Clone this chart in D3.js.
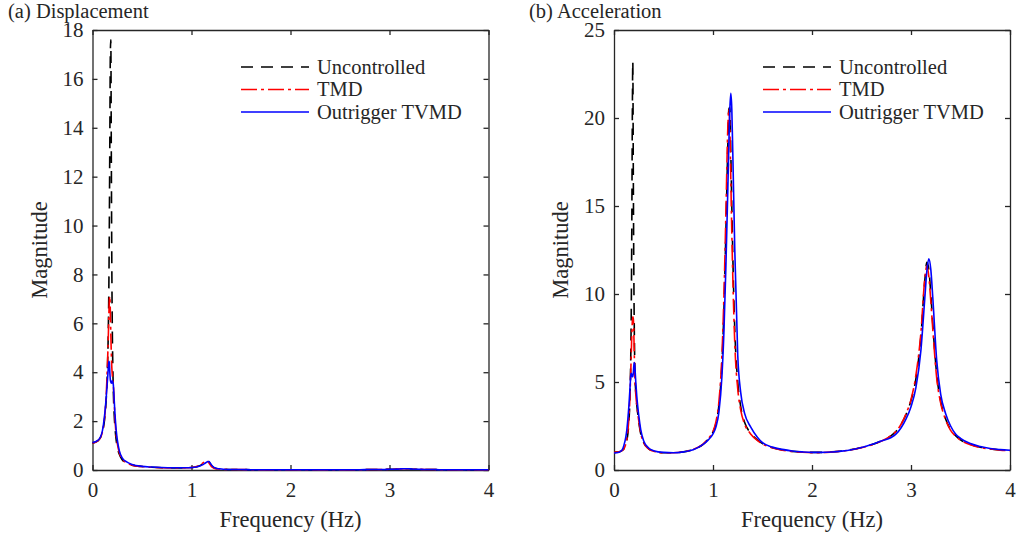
<!DOCTYPE html>
<html>
<head>
<meta charset="utf-8">
<script src="https://cdn.jsdelivr.net/npm/d3@7"></script>
<style>
  body { margin: 0; background: #fff; }
  svg text { font-family: "Liberation Serif", "Times New Roman", serif; fill: #262626; }
  .axis path, .axis line { stroke: #262626; stroke-width: 1.3; }
  .axis text { font-size: 21px; }
</style>
</head>
<body>
<svg id="chart" width="1017" height="535"></svg>
<script>
// frequency grid (Hz), shared by every series
var freq = [0, 0.05, 0.08, 0.1, 0.12, 0.13, 0.14, 0.15, 0.16, 0.165,
  0.17, 0.175, 0.18, 0.185, 0.19, 0.195, 0.2, 0.205, 0.21, 0.22,
  0.23, 0.24, 0.25, 0.27, 0.3, 0.35, 0.4, 0.5, 0.6, 0.7,
  0.8, 0.9, 0.95, 1.0, 1.03, 1.06, 1.09, 1.11, 1.13, 1.15,
  1.16, 1.17, 1.18, 1.19, 1.2, 1.22, 1.25, 1.28, 1.32, 1.38,
  1.45, 1.5, 1.6, 1.7, 1.8, 1.9, 2.0, 2.1, 2.2, 2.3,
  2.4, 2.5, 2.6, 2.7, 2.8, 2.85, 2.9, 2.95, 3.0, 3.05,
  3.1, 3.14, 3.16, 3.18, 3.2, 3.22, 3.26, 3.3, 3.35, 3.4,
  3.45, 3.5, 3.6, 3.7, 3.8, 3.9, 4.0];

// (a) displacement
var dispUncontrolled = [1.1, 1.18, 1.32, 1.55, 2.0, 2.4, 3.0, 4.0, 5.8, 7.4,
  10.0, 13.5, 17.0, 17.6, 13.0, 8.5, 5.8, 4.3, 3.3, 2.2,
  1.6, 1.2, 0.95, 0.65, 0.42, 0.27, 0.2, 0.14, 0.11, 0.09,
  0.08, 0.08, 0.09, 0.1, 0.11, 0.14, 0.19, 0.24, 0.3, 0.36,
  0.38, 0.37, 0.32, 0.25, 0.19, 0.11, 0.06, 0.04, 0.03, 0.02,
  0.02, 0.02, 0.01, 0.01, 0.01, 0.01, 0.01, 0.01, 0.01, 0.01,
  0.01, 0.01, 0.01, 0.01, 0.02, 0.02, 0.02, 0.02, 0.03, 0.03,
  0.04, 0.05, 0.05, 0.05, 0.05, 0.04, 0.03, 0.03, 0.02, 0.02,
  0.02, 0.01, 0.01, 0.01, 0.01, 0.01, 0.01];
var dispTMD = [1.1, 1.18, 1.32, 1.55, 2.05, 2.5, 3.2, 4.2, 5.5, 6.3,
  6.9, 7.1, 6.5, 5.6, 4.8, 4.2, 3.9, 3.7, 3.5, 2.7,
  1.9, 1.4, 1.1, 0.72, 0.45, 0.28, 0.2, 0.14, 0.11, 0.09,
  0.08, 0.08, 0.09, 0.1, 0.12, 0.15, 0.21, 0.27, 0.33, 0.38,
  0.37, 0.33, 0.26, 0.2, 0.15, 0.09, 0.05, 0.04, 0.03, 0.02,
  0.02, 0.02, 0.01, 0.01, 0.01, 0.01, 0.01, 0.01, 0.01, 0.01,
  0.01, 0.01, 0.01, 0.01, 0.02, 0.02, 0.02, 0.02, 0.03, 0.03,
  0.04, 0.05, 0.05, 0.05, 0.05, 0.04, 0.03, 0.03, 0.02, 0.02,
  0.02, 0.01, 0.01, 0.01, 0.01, 0.01, 0.01];
var dispTVMD = [1.12, 1.2, 1.35, 1.6, 2.15, 2.55, 3.05, 3.6, 4.2, 4.45,
  4.4, 4.0, 3.7, 3.6, 3.55, 3.6, 3.65, 3.6, 3.5, 2.8,
  2.1, 1.6, 1.25, 0.8, 0.5, 0.32, 0.23, 0.15, 0.12, 0.1,
  0.09, 0.09, 0.09, 0.1, 0.11, 0.13, 0.17, 0.21, 0.26, 0.31,
  0.34, 0.35, 0.33, 0.28, 0.22, 0.13, 0.07, 0.05, 0.03, 0.02,
  0.02, 0.02, 0.01, 0.01, 0.01, 0.01, 0.01, 0.01, 0.01, 0.01,
  0.01, 0.01, 0.01, 0.01, 0.02, 0.02, 0.02, 0.02, 0.03, 0.03,
  0.04, 0.05, 0.05, 0.05, 0.05, 0.04, 0.03, 0.03, 0.02, 0.02,
  0.02, 0.01, 0.01, 0.01, 0.01, 0.01, 0.01];

// (b) acceleration
var accUncontrolled = [1.0, 1.03, 1.1, 1.2, 1.45, 1.7, 2.05, 2.7, 3.9, 5.0,
  6.7, 9.5, 14.0, 20.0, 23.2, 17.0, 11.5, 8.0, 6.0, 4.4,
  3.7, 3.2, 2.75, 2.05, 1.55, 1.2, 1.06, 0.98, 0.98, 1.03,
  1.17, 1.46, 1.75, 2.15, 2.65, 3.7, 6.0, 9.0, 13.5, 18.5,
  20.5, 20.6, 18.0, 15.0, 12.2, 8.0, 5.0, 3.6, 2.7, 2.1,
  1.7, 1.5, 1.27, 1.14, 1.06, 1.02, 1.0, 1.0, 1.03, 1.08,
  1.16, 1.28, 1.43, 1.65, 1.95, 2.2, 2.6, 3.15, 3.95, 5.2,
  7.6, 10.8, 11.8, 11.4, 10.0, 8.3, 5.4, 3.9, 2.9, 2.3,
  1.95, 1.72, 1.45, 1.3, 1.2, 1.14, 1.1];
var accTMD = [1.0, 1.03, 1.1, 1.2, 1.5, 1.75, 2.2, 2.9, 4.0, 4.8,
  5.7, 6.7, 7.7, 8.4, 8.7, 8.6, 7.8, 6.6, 5.4, 4.3,
  3.7, 3.2, 2.8, 2.1, 1.55, 1.2, 1.06, 0.98, 0.98, 1.03,
  1.17, 1.47, 1.77, 2.2, 2.75, 3.9, 6.5, 9.8, 14.5, 19.5,
  20.5, 19.5, 16.5, 13.5, 11.0, 7.2, 4.6, 3.4, 2.6, 2.05,
  1.67, 1.48, 1.26, 1.13, 1.05, 1.01, 0.99, 0.99, 1.02, 1.07,
  1.15, 1.27, 1.42, 1.64, 1.95, 2.2, 2.6, 3.2, 4.0, 5.4,
  7.8, 10.9, 11.6, 11.0, 9.6, 8.0, 5.2, 3.8, 2.85, 2.25,
  1.92, 1.7, 1.43, 1.28, 1.19, 1.13, 1.1];
var accTVMD = [0.97, 1.01, 1.12, 1.4, 1.9, 2.3, 2.9, 3.6, 4.5, 5.0,
  5.4, 5.5, 5.4, 5.3, 5.3, 5.5, 5.9, 6.1, 5.9, 5.0,
  4.2, 3.6, 3.1, 2.3, 1.65, 1.25, 1.1, 1.0, 0.98, 1.03,
  1.15, 1.45, 1.7, 2.05, 2.45, 3.3, 5.3, 7.8, 11.5, 16.0,
  18.5, 20.5, 21.4, 20.5, 18.0, 12.5, 6.5, 4.4, 3.2, 2.45,
  1.85, 1.55, 1.3, 1.17, 1.08, 1.03, 1.0, 1.0, 1.02, 1.07,
  1.15, 1.28, 1.45, 1.65, 1.85, 2.05, 2.4, 2.9, 3.6, 4.7,
  6.8, 9.8, 11.3, 12.0, 11.4, 9.8, 6.2, 4.3, 3.2, 2.5,
  2.05, 1.8, 1.5, 1.33, 1.22, 1.16, 1.12];

var freqTicks = [0, 1, 2, 3, 4];
var dispTicks = [0, 2, 4, 6, 8, 10, 12, 14, 16, 18];
var accTicks = [0, 5, 10, 15, 20, 25];
var seriesNames = ['Uncontrolled', 'TMD', 'Outrigger TVMD'];
var seriesColors = ['#000000', '#ff0000', '#0000ff'];
var seriesDash = ['12,8', '16,4,3,4', null];

var panels = [
  {title: '(a) Displacement', titleX: 8, left: 92.5, right: 488.5, ymax: 18, ticks: dispTicks,
   series: [dispUncontrolled, dispTMD, dispTVMD], legendX: 241},
  {title: '(b) Acceleration', titleX: 529, left: 614, right: 1010, ymax: 25, ticks: accTicks,
   series: [accUncontrolled, accTMD, accTVMD], legendX: 763}
];

var plotTop = 30, plotBottom = 470;
var svg = d3.select('#chart');

panels.forEach(function(p) {
  var x = d3.scaleLinear().domain([0, 4]).range([p.left, p.right]);
  var y = d3.scaleLinear().domain([0, p.ymax]).range([plotBottom, plotTop]);
  var g = svg.append('g');

  // box with inward ticks on all four sides
  g.append('g')
      .attr('class', 'axis')
      .attr('transform', 'translate(0,' + plotBottom + ')')
      .call(d3.axisBottom(x).tickValues(freqTicks).tickSizeInner(-5).tickSizeOuter(0).tickPadding(12).tickFormat(d3.format('d')));
  g.append('g')
      .attr('class', 'axis')
      .attr('transform', 'translate(0,' + plotTop + ')')
      .call(d3.axisTop(x).tickValues(freqTicks).tickSizeInner(-5).tickSizeOuter(0).tickFormat(''));
  g.append('g')
      .attr('class', 'axis')
      .attr('transform', 'translate(' + p.left + ',0)')
      .call(d3.axisLeft(y).tickValues(p.ticks).tickSizeInner(-5).tickSizeOuter(0).tickPadding(9).tickFormat(d3.format('d')));
  g.append('g')
      .attr('class', 'axis')
      .attr('transform', 'translate(' + p.right + ',0)')
      .call(d3.axisRight(y).tickValues(p.ticks).tickSizeInner(-5).tickSizeOuter(0).tickFormat(''));
  g.selectAll('.axis .domain').attr('stroke-width', 1.6);

  var line = d3.line()
      .x(function(d, i) { return x(freq[i]); })
      .y(function(d) { return y(d); })
      .curve(d3.curveMonotoneX);

  g.selectAll('path.series')
      .data(p.series)
      .enter().append('path')
      .attr('class', 'series')
      .attr('fill', 'none')
      .attr('stroke', function(d, i) { return seriesColors[i]; })
      .attr('stroke-width', 1.6)
      .attr('stroke-dasharray', function(d, i) { return seriesDash[i]; })
      .attr('d', line);

  // legend
  var leg = g.selectAll('g.legend')
      .data(seriesNames)
      .enter().append('g')
      .attr('class', 'legend')
      .attr('transform', function(d, i) { return 'translate(' + p.legendX + ',' + (67 + i * 22.5) + ')'; });
  leg.append('line')
      .attr('x1', 0).attr('x2', 68)
      .attr('stroke', function(d, i) { return seriesColors[i]; })
      .attr('stroke-width', 1.6)
      .attr('stroke-dasharray', function(d, i) { return seriesDash[i]; });
  leg.append('text')
      .attr('x', 76).attr('dy', '0.33em')
      .style('font-size', '20.5px')
      .text(function(d) { return d; });

  g.append('text')
      .attr('x', p.titleX).attr('y', 18)
      .style('font-size', '20.5px')
      .text(p.title);
  g.append('text')
      .attr('x', (p.left + p.right) / 2).attr('y', 527)
      .attr('text-anchor', 'middle')
      .style('font-size', '22.5px')
      .text('Frequency (Hz)');
  g.append('text')
      .attr('transform', 'translate(' + (p.left - 46) + ',' + ((plotTop + plotBottom) / 2) + ') rotate(-90)')
      .attr('text-anchor', 'middle')
      .style('font-size', '22.5px')
      .text('Magnitude');
});
</script>
</body>
</html>
